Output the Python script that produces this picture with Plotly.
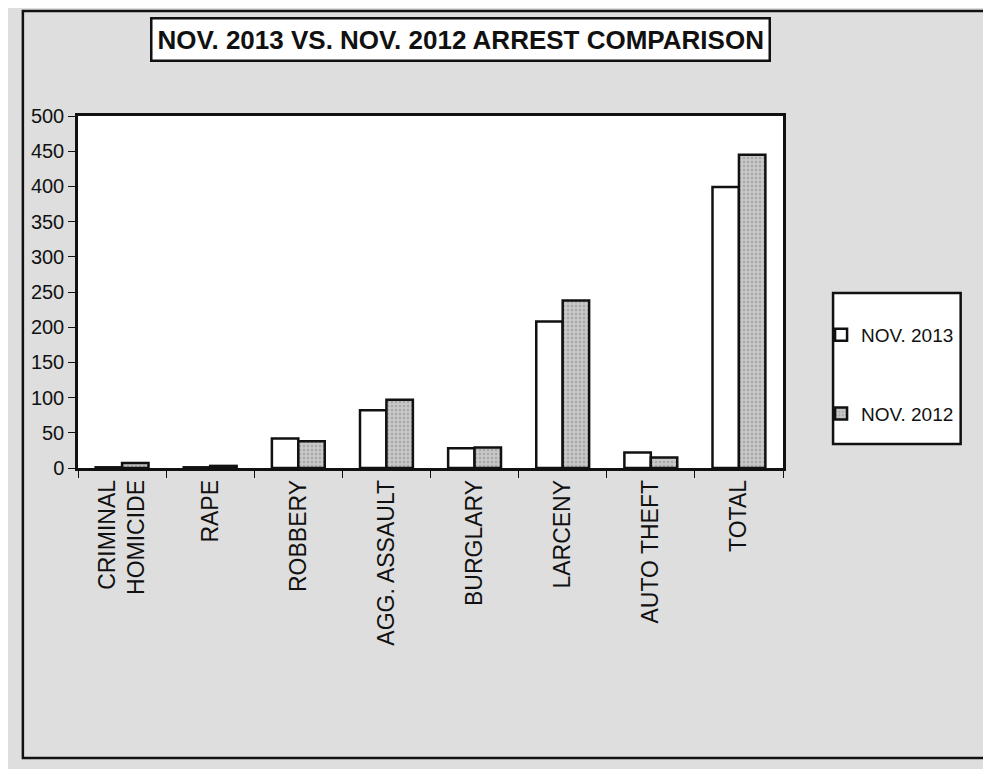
import plotly.graph_objects as go

# ── Data ────────────────────────────────────────────────────────────────
categories = ["CRIMINAL<br>HOMICIDE", "RAPE", "ROBBERY", "AGG. ASSAULT",
              "BURGLARY", "LARCENY", "AUTO THEFT", "TOTAL"]
nov_2013 = [1, 1, 42, 82, 28, 208, 22, 399]
nov_2012 = [7, 3, 38, 97, 29, 238, 15, 445]
y_ticks = list(range(0, 501, 50))

# ── Style ───────────────────────────────────────────────────────────────
FONT = "Liberation Sans, Arial, sans-serif"
PAPER = "#dedede"
INK = "#111111"

fig = go.Figure()
fig.add_trace(go.Bar(
    x=categories, y=nov_2013, name="NOV. 2013",
    marker=dict(color="white", line=dict(color=INK, width=2.5)),
    legendgroup="a",
))
fig.add_trace(go.Bar(
    x=categories, y=nov_2012, name="NOV. 2012",
    marker=dict(color="#c8c8c8", line=dict(color=INK, width=2.5),
                pattern=dict(shape=".", fgcolor="#888888", size=4, solidity=0.3)),
    legendgroup="b",
))

axis_common = dict(showline=True, linecolor=INK, linewidth=2.5, mirror=True,
                   showgrid=False, zeroline=False)

fig.update_layout(
    width=991, height=769,
    paper_bgcolor=PAPER, plot_bgcolor="white",
    font=dict(family=FONT, color=INK, size=15),
    margin=dict(l=70, r=216, t=108, b=309),
    barmode="group", bargap=0.4, bargroupgap=0,
    xaxis=dict(**axis_common, tickangle=-90, ticks="outside",
               tickson="boundaries", ticklen=7, tickcolor=INK,
               tickfont=dict(size=23)),
    yaxis=dict(**axis_common, range=[0, 500], tickvals=y_ticks,
               ticks="outside", ticklen=7, tickcolor=INK,
               tickfont=dict(size=20)),
    legend=dict(x=1.054, y=0.432, xanchor="left", yanchor="top",
                bgcolor="rgba(0,0,0,0)", borderwidth=0,
                tracegroupgap=51, font=dict(size=19)),
    showlegend=True,
)

# outer page frame
fig.add_shape(type="rect", xref="paper", yref="paper",
              x0=-0.0782, x1=1.35, y0=-0.824, y1=1.298,
              line=dict(color=INK, width=2.5), layer="below")
# legend box
fig.add_shape(type="rect", xref="paper", yref="paper",
              x0=1.071, x1=1.252, y0=0.068, y1=0.497,
              line=dict(color=INK, width=2.5), fillcolor="white")

# boxed title
fig.add_annotation(
    x=0.543, y=1.281, xref="paper", yref="paper",
    text="<b>NOV. 2013 VS. NOV. 2012 ARREST COMPARISON</b>",
    showarrow=False, font=dict(size=26, color=INK, family=FONT),
    bgcolor="white", bordercolor=INK, borderwidth=2.5, borderpad=5,
)

fig.write_html("out.html")
